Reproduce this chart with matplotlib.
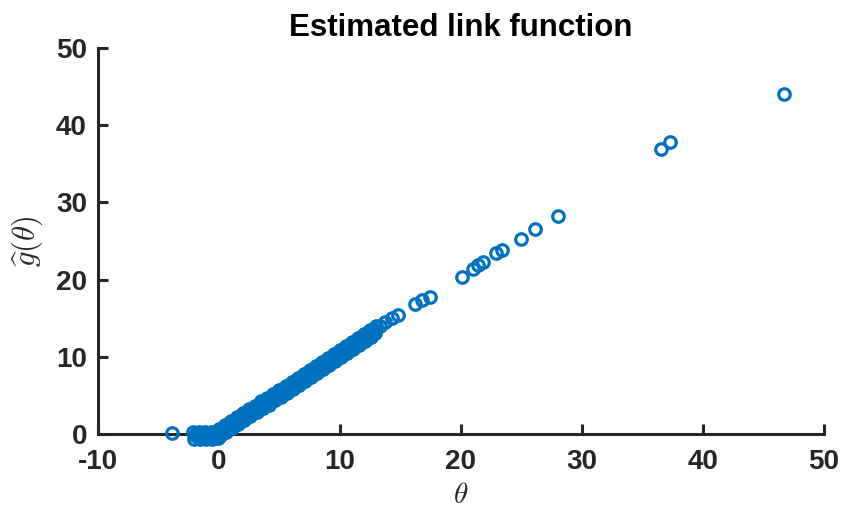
import numpy as np
import matplotlib.pyplot as plt

# %%
# Estimated link values: index theta vs. g-hat(theta)
# flat part below zero
theta_neg = [-3.9,
             -2.15, -2.05, -1.95, -1.85, -1.75, -1.65, -1.55, -1.45, -1.35, -1.25,
             -1.15, -1.05, -0.95, -0.85, -0.75, -0.65, -0.55, -0.45, -0.35, -0.25,
             -0.15, -0.05]
g_neg = [0.15,
         0.3, -0.6, -0.15, 0.1, -0.4, 0.3, -0.6, -0.15, 0.1, -0.4,
         0.3, -0.6, -0.15, 0.1, -0.4, 0.3, -0.6, -0.15, 0.1, -0.4,
         0.3, -0.5]

# dense linear part
theta_mid = [0.0, 0.1, 0.2, 0.3, 0.4, 0.5, 0.6, 0.7, 0.8, 0.9,
             1.0, 1.1, 1.2, 1.3, 1.4, 1.5, 1.6, 1.7, 1.8, 1.9,
             2.0, 2.1, 2.2, 2.3, 2.4, 2.5, 2.6, 2.7, 2.8, 2.9,
             3.0, 3.1, 3.2, 3.3, 3.4, 3.5, 3.6, 3.7, 3.8, 3.9,
             4.0, 4.1, 4.2, 4.3, 4.4, 4.5, 4.6, 4.7, 4.8, 4.9,
             5.0, 5.1, 5.2, 5.3, 5.4, 5.5, 5.6, 5.7, 5.8, 5.9,
             6.0, 6.1, 6.2, 6.3, 6.4, 6.5, 6.6, 6.7, 6.8, 6.9,
             7.0, 7.1, 7.2, 7.3, 7.4, 7.5, 7.6, 7.7, 7.8, 7.9,
             8.0, 8.1, 8.2, 8.3, 8.4, 8.5, 8.6, 8.7, 8.8, 8.9,
             9.0, 9.1, 9.2, 9.3, 9.4, 9.5, 9.6, 9.7, 9.8, 9.9,
             10.0, 10.1, 10.2, 10.3, 10.4, 10.5, 10.6, 10.7, 10.8, 10.9,
             11.0, 11.1, 11.2, 11.3, 11.4, 11.5, 11.6, 11.7, 11.8, 11.9,
             12.0, 12.1, 12.2, 12.3, 12.4, 12.5, 12.6, 12.7, 12.8, 12.9,
             13.0]
g_mid = [0.60, -0.30, 0.31, 0.66, 0.26, 1.12, 0.22, 0.82, 1.17, 0.78,
         1.63, 0.73, 1.34, 1.69, 1.29, 2.15, 1.25, 1.85, 2.20, 1.81,
         2.66, 1.76, 2.37, 2.72, 2.32, 3.18, 2.28, 2.88, 3.23, 2.84,
         3.69, 2.79, 3.40, 3.75, 3.35, 4.21, 3.31, 3.91, 4.26, 3.87,
         4.72, 3.82, 4.43, 4.78, 4.38, 5.24, 4.34, 4.94, 5.29, 4.90,
         5.75, 4.85, 5.46, 5.81, 5.41, 6.27, 5.37, 5.97, 6.32, 5.93,
         6.78, 5.88, 6.49, 6.84, 6.44, 7.30, 6.40, 7.00, 7.35, 6.96,
         7.81, 6.91, 7.52, 7.87, 7.47, 8.33, 7.43, 8.03, 8.38, 7.99,
         8.84, 7.94, 8.55, 8.90, 8.50, 9.36, 8.46, 9.06, 9.41, 9.02,
         9.87, 8.97, 9.58, 9.93, 9.53, 10.39, 9.49, 10.09, 10.44, 10.05,
         10.90, 10.00, 10.61, 10.96, 10.56, 11.42, 10.52, 11.12, 11.47, 11.08,
         11.93, 11.03, 11.64, 11.99, 11.59, 12.45, 11.55, 12.15, 12.50, 12.11,
         12.96, 12.06, 12.67, 13.02, 12.62, 13.48, 12.58, 13.18, 13.53, 13.14,
         13.99]

# sparse upper tail
theta_tail = [13.3, 13.7, 14.3, 14.8, 16.2, 16.75, 17.4, 20.06, 21.0, 21.4,
              21.8, 22.9, 23.4, 25.0, 26.1, 28.0, 36.5, 37.3, 46.7]
g_tail = [14.0, 14.5, 15.0, 15.4, 16.9, 17.3, 17.8, 20.35, 21.4, 21.9,
          22.3, 23.45, 23.9, 25.3, 26.6, 28.3, 36.9, 37.8, 44.0]

theta = np.array(theta_neg + theta_mid + theta_tail)
g_hat = np.array(g_neg + g_mid + g_tail)

x_ticks = [-10, 0, 10, 20, 30, 40, 50]
y_ticks = [0, 10, 20, 30, 40, 50]

# %%
plt.rcParams['font.family'] = ['Liberation Sans', 'DejaVu Sans']
plt.rcParams['mathtext.fontset'] = 'cm'

dark = '#262626'
fig = plt.figure(figsize=(8.44, 5.11), dpi=100)
ax = fig.add_axes([0.1161, 0.1507, 0.8602, 0.7553])

# markers sit above the axis lines and are not clipped at y=0
ax.plot(theta, g_hat, linestyle='none', marker='o', markersize=8.3,
        markerfacecolor='none', markeredgecolor='#0072BD', markeredgewidth=2.3,
        clip_on=False, zorder=3)

ax.set_xlim(-10, 50)
ax.set_ylim(0, 50)
ax.set_xticks(x_ticks)
ax.set_yticks(y_ticks)
ax.set_xticklabels([str(t) for t in x_ticks], fontweight='bold')
ax.set_yticklabels([str(t) for t in y_ticks], fontweight='bold')

for side in ['top', 'right']:
    ax.spines[side].set_visible(False)
for side in ['left', 'bottom']:
    ax.spines[side].set_linewidth(2.2)
    ax.spines[side].set_color(dark)

ax.tick_params(axis='both', direction='in', length=7, width=2.2, color=dark,
               labelcolor=dark, labelsize=20)
ax.tick_params(axis='x', pad=11)
ax.tick_params(axis='y', pad=8)

ax.set_title('Estimated link function', fontsize=22.5, fontweight='bold', pad=9)
ax.set_xlabel(r'$\theta$', fontsize=21, color=dark, labelpad=4)
ax.set_ylabel(r'$\widehat{g}(\theta)$', fontsize=22, color=dark, labelpad=8)

fig.savefig('out.png', dpi=100)
